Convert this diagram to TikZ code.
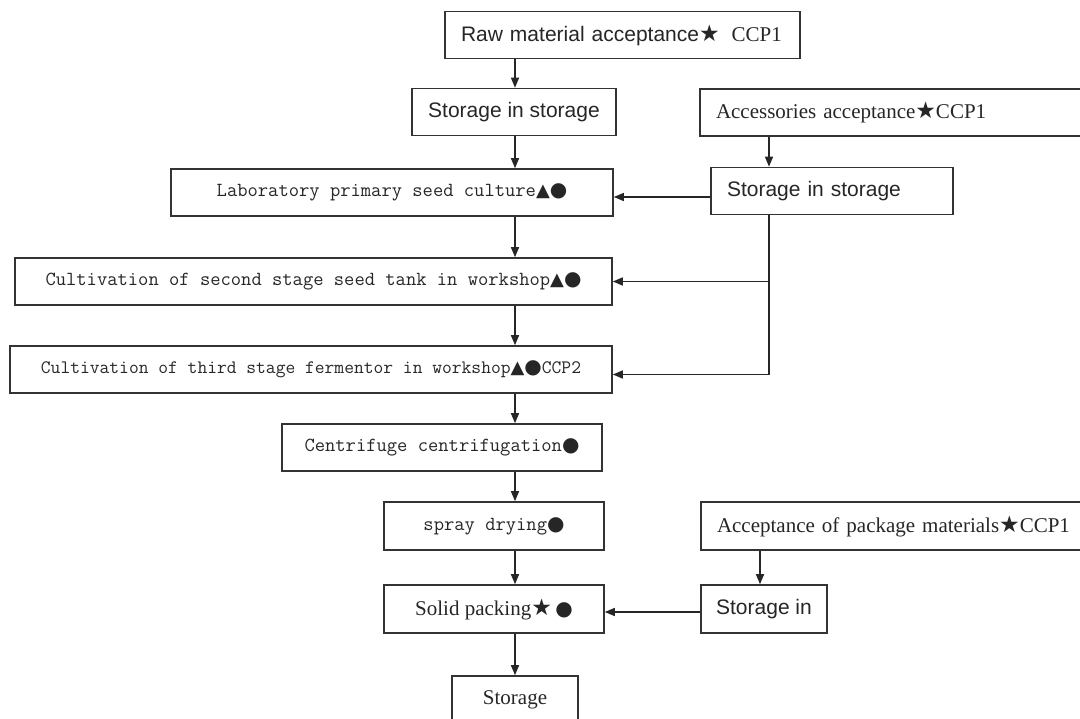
\documentclass[tikz,border=0pt]{standalone}
\usepackage{fontspec}
\setmainfont{Liberation Serif}
\setsansfont{Liberation Sans}
\newfontfamily\symfont{DejaVu Sans}
\usepackage{tikz}
\usetikzlibrary{arrows.meta}

\newcommand{\mkstar}{{\symfont\fontsize{23}{25}\selectfont ★}}
\newcommand{\mktri}{{\symfont\fontsize{18}{21}\selectfont ▲}}
\newcommand{\mkdot}{{\symfont\fontsize{20}{23}\selectfont ●}}

\begin{document}
\begin{tikzpicture}[x=1pt,y=-1pt,
  box/.style={draw=black!80,line width=1.6pt,inner sep=0pt,minimum height=47pt,text=black!85,font=\fontsize{21}{25}\selectfont},
  mono/.style={font=\ttfamily\fontsize{20}{24}\selectfont},
  leftbox/.style={text width=#1,align=left,inner xsep=16pt},
  flow/.style={-{Triangle[length=10pt,width=8pt]},line width=1.4pt,draw=black!85}]
\useasboundingbox (0,0) rectangle (1080,719);
\clip (0,0) rectangle (1080,719);

\node[box,leftbox=323pt] (raw) at (622.5,35) {\sffamily Raw material acceptance\mkstar\hspace{12pt}\rmfamily CCP1};
\node[box,minimum width=204pt] (store1) at (514,112) {\sffamily Storage in storage};
\node[box,leftbox=400pt] (acc) at (916,112.5) {Accessories acceptance\mkstar CCP1};
\node[box,leftbox=210pt] (store2) at (832,191) {\sffamily Storage in storage};
\node[box,mono,minimum width=442pt] (lab) at (392,192.5) {Laboratory primary seed culture\mktri\mkdot};
\node[box,mono,minimum width=597pt] (seed) at (313.5,281.5) {Cultivation of second stage seed tank in workshop\mktri\mkdot};
\node[box,font=\ttfamily\fontsize{19}{23}\selectfont,minimum width=602pt] (ferm) at (311,369.5) {Cultivation of third stage fermentor in workshop\mktri\mkdot CCP2};
\node[box,mono,minimum width=320pt] (centr) at (442,447.5) {Centrifuge centrifugation\mkdot};
\node[box,mono,minimum width=220pt,minimum height=48pt] (spray) at (494,526) {spray drying\mkdot};
\node[box,leftbox=400pt,minimum height=48pt] (pack) at (917,526) {Acceptance of package materials\mkstar CCP1};
\node[box,minimum width=220pt,minimum height=48pt] (solid) at (494,609) {Solid packing\mkstar\,\mkdot};
\node[box,minimum width=126pt,minimum height=48pt] (store3) at (764,609) {\sffamily Storage in};
\node[box,minimum width=126pt,minimum height=48pt] (final) at (515,700) {Storage};

\coordinate (spine) at (515,0);
\coordinate (trunk) at (769,0);
\coordinate (drop) at (760,0);

\draw[flow] (raw.south -| spine) -- (store1.north -| spine);
\draw[flow] (store1.south -| spine) -- (lab.north -| spine);
\draw[flow] (lab.south -| spine) -- (seed.north -| spine);
\draw[flow] (seed.south -| spine) -- (ferm.north -| spine);
\draw[flow] (ferm.south -| spine) -- (centr.north -| spine);
\draw[flow] (centr.south -| spine) -- (spray.north -| spine);
\draw[flow] (spray.south -| spine) -- (solid.north -| spine);
\draw[flow] (solid.south -| spine) -- (final.north -| spine);

\draw[flow] (acc.south -| trunk) -- (store2.north -| trunk);
\draw[flow] ([yshift=-6pt]store2.west) -- ([yshift=-6pt]store2.west -| lab.east);
\draw[flow] (store2.south -| trunk) |- ([yshift=-5pt]ferm.east);
\draw[flow] (trunk |- seed.east) -- (seed.east);

\draw[flow] (pack.south -| drop) -- (store3.north -| drop);
\draw[flow] ([yshift=-3pt]store3.west) -- ([yshift=-3pt]store3.west -| solid.east);

\end{tikzpicture}
\end{document}
